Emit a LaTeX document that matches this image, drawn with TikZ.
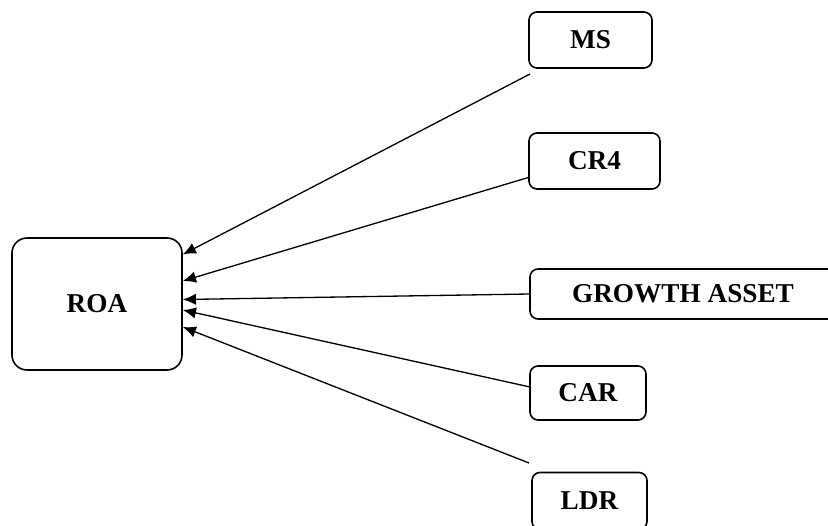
\documentclass[tikz,border=0pt]{standalone}
\usepackage{fontspec}
\setmainfont{Liberation Serif}
\usetikzlibrary{arrows.meta}

\tikzset{
    varbox/.style={draw, line width=0.9pt, rounded corners=0.16cm,
        font=\fontsize{15.5}{18}\selectfont\bfseries, inner sep=0pt},
    arr/.style={line width=0.75pt, -{Latex[length=7.5pt,width=6.5pt]}}
}

\begin{document}
\begin{tikzpicture}
    \clip (0,0) rectangle (16.56,10.5);

    % variabel dependen
    \node[varbox, rounded corners=0.3cm, minimum width=3.4cm, minimum height=2.64cm]
        (roa) at (1.94,4.42) {ROA};

    % variabel independen
    \node[varbox, minimum width=2.46cm, minimum height=1.12cm] (ms) at (11.81,9.70) {MS};
    \node[varbox, minimum width=2.62cm, minimum height=1.12cm] (cr4) at (11.89,7.28) {CR4};
    \node[varbox, minimum width=6.12cm, minimum height=1.0cm] (growth) at (13.66,4.62) {GROWTH ASSET};
    \node[varbox, minimum width=2.32cm, minimum height=1.08cm] (car) at (11.76,2.64) {CAR};
    \node[varbox, minimum width=2.3cm, minimum height=1.14cm] (ldr) at (11.79,0.48) {LDR};

    \coordinate (ms-tail) at (10.60,9.02);
    \coordinate (ldr-tail) at (10.58,1.24);

    \draw[arr] (ms-tail) -- (roa.30);
    \draw[arr] (cr4.194.5) -- (roa.15.8);
    \draw[arr] (growth.west) -- (roa.3.4);
    \draw[arr] (car.174) -- (roa.-4.7);
    \draw[arr] (ldr-tail) -- (roa.-15.8);
\end{tikzpicture}
\end{document}
